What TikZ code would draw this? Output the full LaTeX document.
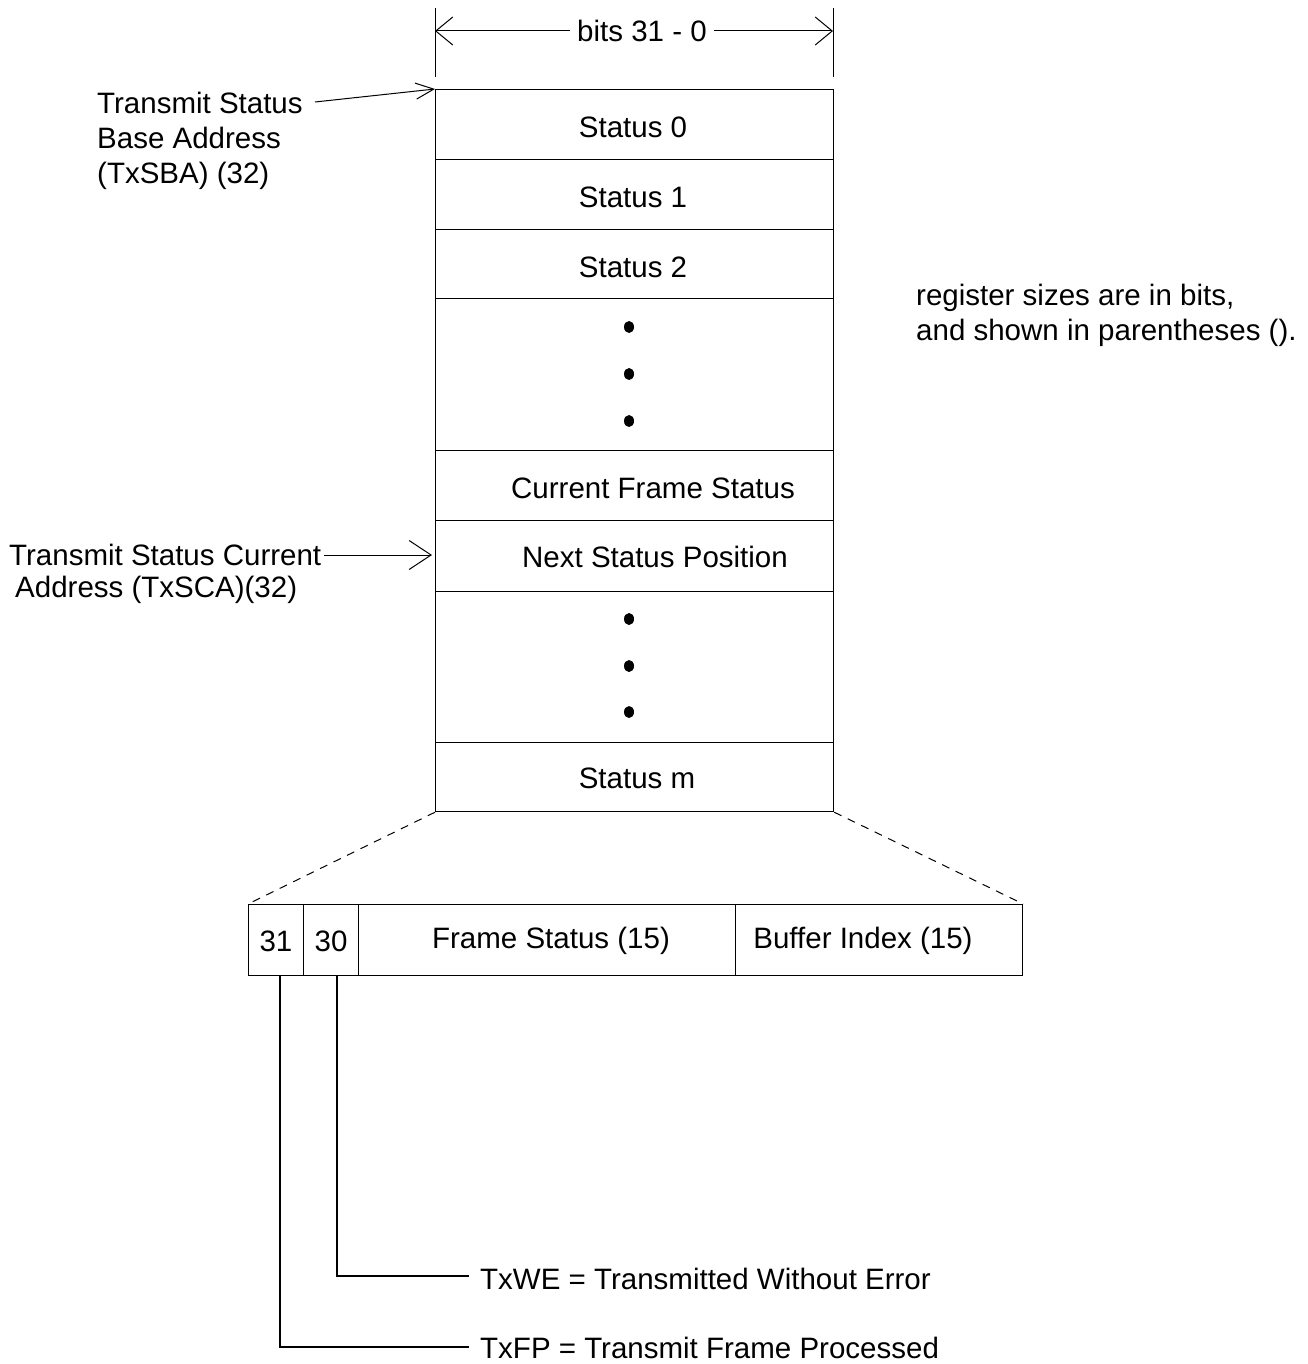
\documentclass[tikz,border=0pt]{standalone}
\usepackage{fontspec}
\setmainfont{Liberation Sans}
\usetikzlibrary{arrows.meta,shapes.geometric}
\begin{document}
\begin{tikzpicture}[x=1pt,y=-1pt,
  every node/.style={font=\fontsize{29.5}{35}\selectfont, inner sep=0pt},
  cell/.style={draw, line width=1.2pt, rectangle, anchor=north west},
  dimarr/.style={line width=1pt, -{Straight Barb[length=17pt, width=28pt, line width=1pt]}},
  ptrA/.style={line width=1pt, -{Straight Barb[length=18pt, width=16pt, line width=1pt]}},
  ptrB/.style={line width=1pt, -{Straight Barb[length=22pt, width=29pt, line width=1pt]}},
  dsh/.style={line width=1pt, dash pattern=on 8pt off 7pt},
  lead/.style={line width=1.2pt}
]
\useasboundingbox (0,0) rectangle (1307,1364);

% main column cells
\node[cell, minimum width=398pt, minimum height=70pt] (s0) at (435,89) {};
\node[cell, minimum width=398pt, minimum height=70pt] (s1) at (435,159) {};
\node[cell, minimum width=398pt, minimum height=69pt] (s2) at (435,229) {};
\node[cell, minimum width=398pt, minimum height=152pt] (d1) at (435,298) {};
\node[cell, minimum width=398pt, minimum height=70pt] (cf) at (435,450) {};
\node[cell, minimum width=398pt, minimum height=71pt] (ns) at (435,520) {};
\node[cell, minimum width=398pt, minimum height=151pt] (d2) at (435,591) {};
\node[cell, minimum width=398pt, minimum height=69pt] (sm) at (435,742) {};

\node (t0) at (633,127) {Status 0};
\node (t1) at (633,197) {Status 1};
\node (t2) at (633,267) {Status 2};
\node (tcf) at (653,488) {Current Frame Status};
\node (tns) at (655,557) {Next Status Position};
\node (tsm) at (637,778) {Status m};

% dots
\fill (629,327) ellipse (5pt and 6pt);
\fill (629,374) ellipse (5pt and 6pt);
\fill (629,421) ellipse (5pt and 6pt);
\fill (629,619) ellipse (5pt and 6pt);
\fill (629,666) ellipse (5pt and 6pt);
\fill (629,712) ellipse (5pt and 6pt);

% dimension
\coordinate (tkLt) at (435,8);
\coordinate (tkLb) at (435,77);
\coordinate (tkRt) at (833,8);
\coordinate (tkRb) at (833,77);
\coordinate (tkL) at (435,31);
\coordinate (tkR) at (833,31);
\draw[line width=1pt] (tkLt) -- (tkLb);
\draw[line width=1pt] (tkRt) -- (tkRb);
\node[inner xsep=7pt] (bits) at (642,31) {bits 31 - 0};
\draw[dimarr] (bits.west) -- (tkL);
\draw[dimarr] (bits.east) -- (tkR);

% TxSBA
\node[align=left, anchor=north west] (sba) at (97,92)
  {Transmit Status\\Base Address\\(TxSBA) (32)};
\coordinate (sbaend) at (315,102);
\draw[ptrA] (sbaend) -- (s0.north west);

% TxSCA
\node[anchor=west] (sca1) at (9,555) {Transmit Status Current};
\node[anchor=west] (sca2) at (15,590) {Address (TxSCA)(32)};
\coordinate (scatip) at (432,555);
\draw[ptrB] ([xshift=3pt]sca1.east) -- (scatip);

% note
\node[align=left, anchor=north west] (note) at (916,284)
  {register sizes are in bits,\\and shown in parentheses ().};

% bottom register
\node[cell, minimum width=55pt, minimum height=71pt] (b31) at (248,904) {};
\node[cell, minimum width=55pt, minimum height=71pt] (b30) at (303,904) {};
\node[cell, minimum width=377pt, minimum height=71pt] (bfs) at (358,904) {};
\node[cell, minimum width=287pt, minimum height=71pt] (bbi) at (735,904) {};
\node (l31) at (276,941) {31};
\node (l30) at (331,941) {30};
\node (lfs) at (551,941) {Frame Status (15)};
\node (lbi) at (863,941) {Buffer Index (15)};

% zoom dashed lines
\draw[dsh] (sm.south west) -- (b31.north west);
\draw[dsh] (sm.south east) -- (bbi.north east);

% leaders
\node[anchor=base west] (txwe) at (480,1289) {TxWE = Transmitted Without Error};
\node[anchor=base west] (txfp) at (480,1358) {TxFP = Transmit Frame Processed};
\coordinate (we1) at (337,975);
\coordinate (fp1) at (280,975);
\draw[lead] (we1) |- ([xshift=-11pt, yshift=13pt]txwe.base west);
\draw[lead] (fp1) |- ([xshift=-11pt, yshift=11pt]txfp.base west);
\end{tikzpicture}
\end{document}
